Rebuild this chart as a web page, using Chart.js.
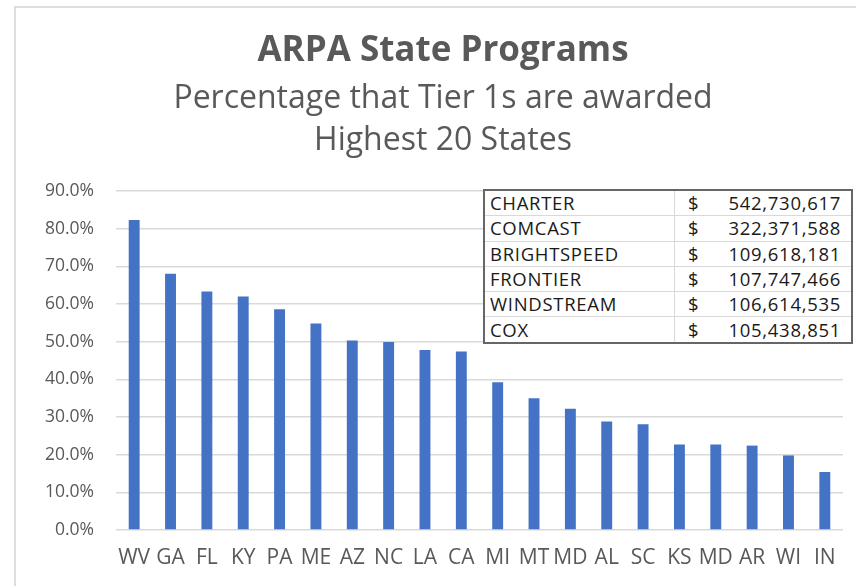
<!DOCTYPE html>
<html>
<head>
<meta charset="utf-8">
<script src="https://cdn.jsdelivr.net/npm/chart.js@4/dist/chart.umd.min.js"></script>
<style>
  html, body { margin: 0; padding: 0; background: #fff; overflow: hidden; }
  body { width: 856px; height: 586px; position: relative; }
  #frame {
    position: absolute; left: 14px; top: 6px;
    width: 854px; height: 600px;
    border: 2px solid #dedede;
  }
  #chart { position: absolute; left: 0; top: 0; }
  #awards {
    position: absolute; left: 483px; top: 189px;
    width: 370px; border-collapse: collapse;
    border: 2px solid #666;
    font: 18.5px "Open Sans", sans-serif; letter-spacing: 0.7px; color: #1a1a1a;
    background: #fff;
  }
  #awards td { height: 24.3px; padding: 0; line-height: 24px; border-bottom: 1px solid #d9d9d9; }
  #awards td.name { padding-left: 5px; width: 184px; border-right: 1px solid #d9d9d9; }
  #awards td.cur { padding-left: 13px; width: 22px; }
  #awards td.amt { text-align: right; padding-right: 10px; }
</style>
</head>
<body>
<div id="frame"><canvas id="chart" width="854" height="578"></canvas></div>
<table id="awards"><tbody id="awards-body"></tbody></table>

<script>
const states = ['WV', 'GA', 'FL', 'KY', 'PA', 'ME', 'AZ', 'NC', 'LA', 'CA',
                'MI', 'MT', 'MD', 'AL', 'SC', 'KS', 'MD', 'AR', 'WI', 'IN'];
const tier1Pct = [82.3, 68.0, 63.3, 62.0, 58.6, 54.8, 50.3, 49.9, 47.8, 47.4,
                  39.2, 35.0, 32.2, 28.8, 28.1, 22.7, 22.7, 22.4, 19.8, 15.4];

const providers = ['CHARTER', 'COMCAST', 'BRIGHTSPEED', 'FRONTIER', 'WINDSTREAM', 'COX'];
const awards    = [542730617, 322371588, 109618181, 107747466, 106614535, 105438851];

const TEXT = '#595959';
const FONT = '"Open Sans", sans-serif';

/* ── Provider table ── */
const tbody = document.getElementById('awards-body');
providers.forEach((p, i) => {
  const tr = document.createElement('tr');
  tr.innerHTML = `<td class="name">${p}</td><td class="cur">$</td>` +
                 `<td class="amt">${awards[i].toLocaleString('en-US')}</td>`;
  tbody.appendChild(tr);
});

/* ── Chart ── */
new Chart(document.getElementById('chart'), {
  type: 'bar',
  data: {
    labels: states,
    datasets: [{
      data: tier1Pct,
      backgroundColor: '#4472c4',
      borderWidth: 0,
      barPercentage: 0.3,
      categoryPercentage: 1
    }]
  },
  options: {
    responsive: false,
    animation: false,
    // equal side padding keeps the titles centred on the (cropped) frame
    layout: { padding: { left: 27, right: 27, top: 0, bottom: 0 } },
    plugins: {
      legend: { display: false },
      tooltip: { enabled: false },
      title: {
        display: true,
        text: 'ARPA State Programs',
        color: TEXT,
        font: { family: FONT, size: 35, weight: 'bold', lineHeight: 1.2 },
        padding: { top: 22, bottom: 6 }
      },
      subtitle: {
        display: true,
        text: ['Percentage that Tier 1s are awarded', 'Highest 20 States'],
        color: TEXT,
        font: { family: FONT, size: 32, lineHeight: 1.3125 },
        padding: { top: 0, bottom: 29 }
      }
    },
    scales: {
      x: {
        grid: { display: false, drawTicks: false },
        border: { display: false },
        ticks: { color: TEXT, font: { family: FONT, size: 21 }, padding: 15, autoSkip: false, maxRotation: 0 },
        afterFit: s => { s.height = 56; }
      },
      y: {
        min: 0,
        max: 90,
        grid: { color: '#d9d9d9', lineWidth: 1.5, drawTicks: false },
        border: { display: false },
        ticks: {
          stepSize: 10,
          color: TEXT,
          padding: 22,
          font: { family: FONT, size: 17.5 },
          callback: v => v.toFixed(1) + '%'
        },
        afterFit: s => { s.width = 73; }
      }
    }
  }
});
</script>
</body>
</html>
